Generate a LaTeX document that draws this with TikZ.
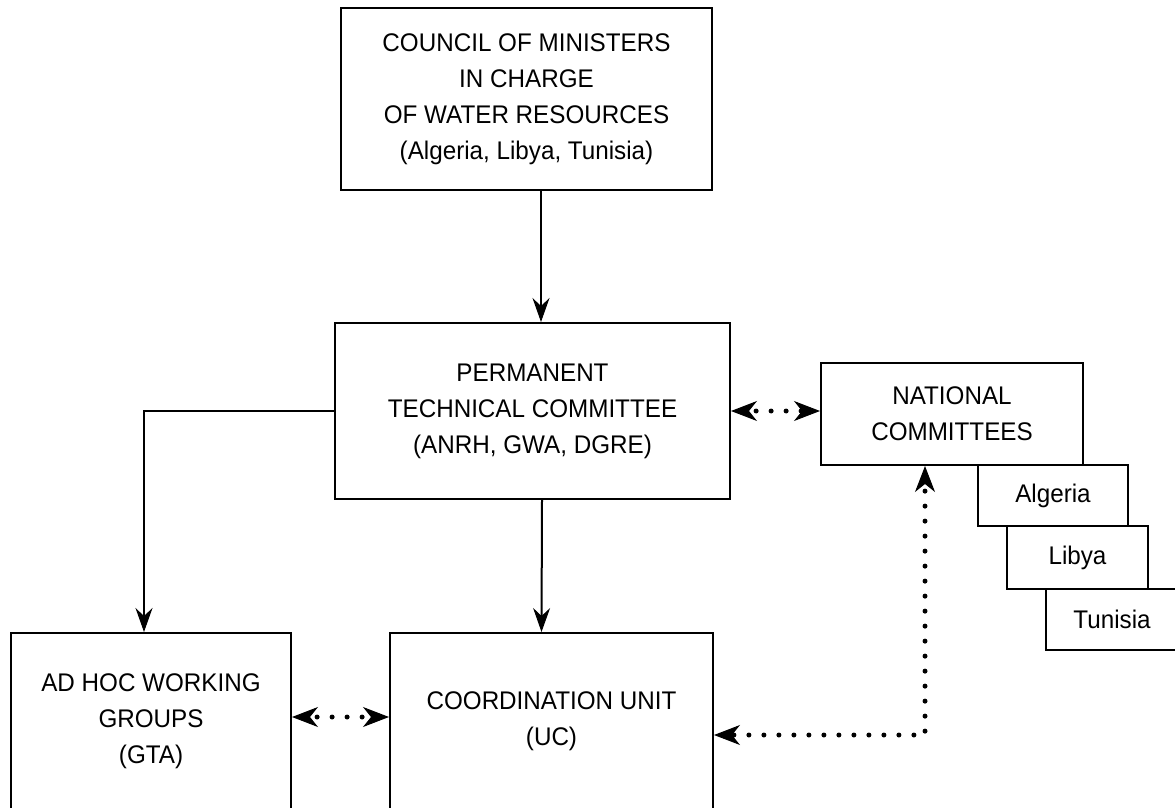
\documentclass[tikz,border=0pt]{standalone}
\usepackage{fontspec}
\setmainfont{Liberation Sans}[FakeStretch=0.95]
\usetikzlibrary{arrows.meta}

\begin{document}
\begin{tikzpicture}[x=1pt,y=-1pt,line width=2pt,
  box/.style={draw,fill=white,inner sep=0pt,align=center,font=\fontsize{25.5}{36}\selectfont},
  arr/.style={-{Stealth[length=24pt,width=17pt,inset=8pt,line width=1pt]}},
  dotarr/.style={{Stealth[length=26pt,width=20pt,inset=8pt,line width=1pt]}-{Stealth[length=26pt,width=20pt,inset=8pt,line width=1pt]},
    line width=5pt,line cap=round,dash pattern=on 0pt off 15pt,dash phase=7.5pt}]
  \clip (0,0) rectangle (1175,808);
  \node[box,minimum width=371pt,minimum height=182pt] (council) at (526.5,99) {COUNCIL OF MINISTERS\\IN CHARGE\\OF WATER RESOURCES\\(Algeria, Libya, Tunisia)};
  \node[box,minimum width=395pt,minimum height=176pt] (ptc) at (532.5,411) {PERMANENT\\TECHNICAL COMMITTEE\\(ANRH, GWA, DGRE)};
  \node[box,minimum width=262pt,minimum height=102pt] (natcom) at (952,414) {NATIONAL\\COMMITTEES};
  \node[box,minimum width=150pt,minimum height=61pt] (alg) at (1053,495.5) {Algeria};
  \node[box,minimum width=141pt,minimum height=63pt] (lib) at (1077.5,557.5) {Libya};
  \node[box,minimum width=132pt,minimum height=61pt] (tun) at (1112,619.5) {Tunisia};
  \node[box,minimum width=280pt,minimum height=176pt] (gta) at (151,721) {AD HOC WORKING\\GROUPS\\(GTA)};
  \node[box,minimum width=323pt,minimum height=176pt] (uc) at (551.5,721) {COORDINATION UNIT\\(UC)};
  \draw[arr] ([xshift=14.5pt]council.south) -- ([xshift=14.5pt]council.south |- ptc.north);
  \draw[arr] (ptc.west) -| ([xshift=-7pt]gta.north);
  \draw[arr] ([xshift=9.5pt]ptc.south) -- ([xshift=-10pt]uc.north);
  \draw[dotarr] (ptc.east) -- (ptc.east -| natcom.west);
  \draw[dotarr] ([yshift=4pt]gta.east) -- ([yshift=4pt]gta.east -| uc.west);
  \coordinate (bend) at (925,735);
  \draw[dotarr] (bend |- natcom.south) -- (bend) -- (bend -| uc.east);
\end{tikzpicture}
\end{document}
